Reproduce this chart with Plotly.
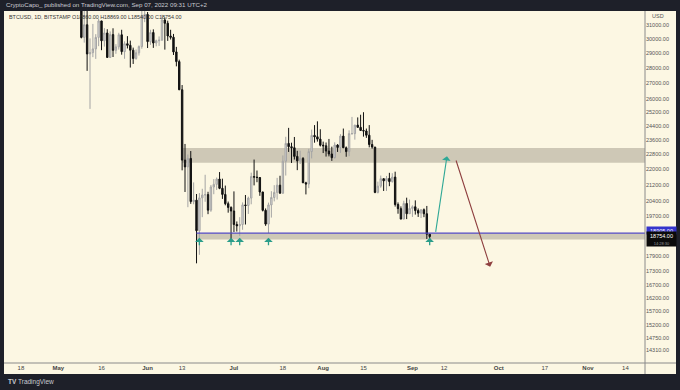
import math
import pandas as pd
import plotly.graph_objects as go

# ---------------- data (BTCUSD daily) ----------------
start_date = "2022-05-01"
opens = [37640,38470,38520,37720,39690,36550,36010,35470,34040,30100,31020,28940,29030,29290,30100,31300,29860,30420,28700,30300,29190,29430,30290,29100,29650,29540,29200,28630,29020,29450,31720,
         31790,29800,30450,29700,29860,29900,31370,31130,30200,30110,29080,28420,26580,22490,22130,22580,20380,20450,19020,20560,20700,20720,19970,21100,21230,21500,21030,20730,20280,20100,
         19930,19300,19240,19300,20220,20190,20550,21630,21600,21580,20850,19960,19320,20220,20580,20830,21190,20790,22430,23400,23220,23160,22690,22450,22580,21310,21250,22950,23850,23770,23640,
         23300,23270,22980,22820,22620,23310,23170,23810,23160,22950,23950,23950,24440,24310,24130,24100,23860,23340,23200,20830,21140,21520,21410,21530,21370,21600,20240,20040,19550,20290,19800,
         20050,20130,19950,19830,19990,19800,18860]
highs = [38660,39140,38630,39960,39840,36660,36130,35500,34250,32660,32170,30030,31080,30330,31450,31310,30770,30690,30530,30760,29620,30430,30650,29820,30190,29870,29380,29250,29530,32210,32380,
         31970,30650,30680,29940,30170,31760,31550,31320,30650,30350,29430,28550,26880,23370,22790,22980,21330,20750,20800,21010,21720,20860,21200,21500,21580,21860,21520,21170,20380,20150,
         20880,19440,19640,20340,20700,20620,21830,22520,21940,21600,20860,20050,20330,20890,21190,21560,21670,22740,23770,24280,23440,23760,22990,23000,22650,21360,23100,24180,24440,24660,24200,
         23500,23450,23650,23220,23460,23360,23920,24240,23230,24140,24920,24450,24890,25050,25200,24240,24440,23600,23200,21370,21680,21520,21660,21820,21800,21880,20340,20150,20420,20570,20480,
         20200,20440,20050,20000,20050,20170,18869]
lows = [37390,38060,37520,37680,35570,35270,34780,33720,30030,29730,27800,25400,28720,28600,29480,29200,29450,28690,28670,28730,28950,29240,28890,28610,29320,28020,28260,28550,28830,29300,31210,
        29350,29570,29360,29470,29500,29880,29240,29850,29950,28870,28100,26560,21950,20850,20110,20270,20250,17600,17960,19640,20370,19780,19890,20740,20950,20990,20510,20200,19850,18630,
        18960,18980,18780,19060,19300,19790,20250,21180,21340,20660,19910,19240,18910,19620,20390,20480,20770,20760,21680,22930,22340,22520,21960,22280,21300,20730,21040,22580,23440,23500,23230,
        22870,22680,22690,22450,22580,22930,22880,23650,22670,22700,23900,23610,24300,24160,23780,23710,23180,23110,20790,20780,21060,20900,20900,21140,21320,20140,19800,19540,19550,19550,19800,
        19650,19760,19650,19600,19640,18650,18540]
closes = [38470,38520,37720,39690,36550,36010,35470,34040,30100,31020,28940,29030,29290,30100,31300,29860,30420,28700,30300,29190,29430,30290,29100,29650,29540,29200,28630,29020,29450,31720,31790,
          29800,30450,29700,29860,29900,31370,31130,30200,30110,29080,28420,26580,22490,22130,22580,20380,20450,19020,20560,20700,20720,19970,21100,21230,21500,21030,20730,20280,20100,19930,
          19300,19240,19300,20220,20190,20550,21630,21600,21580,20850,19960,19320,20220,20580,20830,21190,20790,22430,23400,23220,23160,22690,22450,22580,21310,21250,22950,23850,23770,23640,23300,
          23270,22980,22820,22620,23310,23170,23810,23160,22950,23950,23950,24440,24310,24130,24100,23860,23340,23200,20830,21140,21520,21410,21530,21370,21600,20240,20040,19550,20290,19800,20050,
          20130,19950,19830,19990,19800,18860,18754]

# drawn zones / levels / arrows
resistance_zone = [22350, 23150]      # upper grey box
resistance_start = "2022-06-13"
support_zone = [18630, 18905]         # lower grey box
support_start = "2022-06-18"
support_line = 18905                  # purple horizontal line
bounce_dates = ["2022-06-19", "2022-06-30", "2022-07-03", "2022-07-13", "2022-09-07"]
bounce_price = 18700
up_path = [("2022-09-09", 18900), ("2022-09-13", 22700)]
down_path = [("2022-09-16", 22550), ("2022-09-28", 17460)]

ytick_vals = [31000,30000,29000,28000,27000,26000,25200,24400,23600,22800,22000,21200,20400,19700,
              17900,17300,16700,16200,15700,15200,14750,14310]
xtick_vals = ["2022-04-18","2022-05-01","2022-05-16","2022-06-01","2022-06-13","2022-07-01","2022-07-18",
              "2022-08-01","2022-08-15","2022-09-01","2022-09-12","2022-10-01","2022-10-17","2022-11-01","2022-11-14"]
xtick_text = ["18","<b>May</b>","16","<b>Jun</b>","13","<b>Jul</b>","18","<b>Aug</b>","15","<b>Sep</b>","12",
              "<b>Oct</b>","17","<b>Nov</b>","14"]

dates = pd.date_range(start_date, periods=len(closes), freq="D")

# ---------------- figure ----------------
DARK = "#1e2029"
CREAM = "#fcf7e3"
FONT = "Liberation Sans"
x_range = ["2022-04-12 03:00", "2022-11-20 19:00"]
y_range = [math.log10(13890), math.log10(32048)]

fig = go.Figure()
fig.add_trace(go.Candlestick(
    x=dates, open=opens, high=highs, low=lows, close=closes,
    increasing=dict(fillcolor="#dcdcdc", line=dict(color="#a4a4a4", width=1)),
    decreasing=dict(fillcolor="#111111", line=dict(color="#111111", width=1)),
    whiskerwidth=0, showlegend=False, hoverinfo="skip",
))

shapes = []
# cream panel
shapes.append(dict(type="rect", xref="paper", yref="paper", x0=0, x1=(676-4)/641,
                   y0=(363-374)/352, y1=1, fillcolor=CREAM, line=dict(width=0), layer="below"))
# zones
shapes.append(dict(type="rect", xref="x", yref="y", x0=resistance_start, x1=x_range[1],
                   y0=resistance_zone[0], y1=resistance_zone[1], fillcolor="#cec8b6",
                   line=dict(width=0), layer="below"))
shapes.append(dict(type="rect", xref="x", yref="y", x0=support_start, x1=x_range[1],
                   y0=support_zone[0], y1=support_zone[1], fillcolor="#cec8b6",
                   line=dict(width=0), layer="below"))
shapes.append(dict(type="line", xref="x", yref="y", x0=support_start, x1=x_range[1],
                   y0=support_line, y1=support_line, line=dict(color="#5149c4", width=1.3)))
# axis frame lines
shapes.append(dict(type="line", xref="paper", yref="paper", x0=1, x1=1, y0=(363-374)/352, y1=1,
                   line=dict(color="#8a8a8a", width=1)))
shapes.append(dict(type="line", xref="paper", yref="paper", x0=0, x1=(676-4)/641, y0=0, y1=0,
                   line=dict(color="#8a8a8a", width=1)))

ann = []
# header texts
ann.append(dict(xref="paper", yref="paper", x=(4-4)/641, y=(363-5)/352, xanchor="left", yanchor="middle",
                text="CryptoCapo_ published on TradingView.com, Sep 07, 2022 09:31 UTC+2",
                showarrow=False, font=dict(family=FONT, size=6.2, color="#c9cbd1")))
ann.append(dict(xref="paper", yref="paper", x=(7-4)/641, y=(363-17)/352, xanchor="left", yanchor="middle",
                text="BTCUSD, 1D, BITSTAMP O18860.00 H18869.00 L18540.00 C18754.00",
                showarrow=False, font=dict(family=FONT, size=5.4, color="#333333")))
ann.append(dict(xref="paper", yref="paper", x=(650-4)/641, y=(363-15.5)/352, xanchor="left", yanchor="middle",
                text="USD", showarrow=False, font=dict(family=FONT, size=5.5, color="#555555")))
ann.append(dict(xref="paper", yref="paper", x=(6-4)/641, y=(363-382)/352, xanchor="left", yanchor="middle",
                text="<b>TV</b> TradingView", showarrow=False, font=dict(family=FONT, size=6.5, color="#c9cbd1")))
# price labels
ann.append(dict(xref="paper", yref="paper", x=1, xshift=1, y=(363-230.5)/352, xanchor="left", yanchor="middle",
                text="18905.00", showarrow=False, bgcolor="#3434cc", borderpad=0.5, width=28,
                font=dict(family=FONT, size=5.5, color="#ffffff")))
ann.append(dict(xref="paper", yref="paper", x=1, xshift=1, y=(363-239.3)/352, xanchor="left", yanchor="middle",
                text="18754.00<br><span style='font-size:4px;color:#9a9a9a'>14:28:30</span>",
                showarrow=False, bgcolor="#0b0b0b", borderpad=0.5, width=28,
                font=dict(family=FONT, size=5.5, color="#ffffff")))
# small bounce arrows
for d in bounce_dates:
    ann.append(dict(x=d, y=math.log10(bounce_price), xref="x", yref="y", ax=0, ay=9, text="",
                    showarrow=True, arrowhead=1, arrowsize=1.1, arrowwidth=1.3, arrowcolor="#2a9d8a"))
# projected path
ann.append(dict(x=up_path[1][0], y=math.log10(up_path[1][1]), ax=up_path[0][0], ay=math.log10(up_path[0][1]),
                xref="x", yref="y", axref="x", ayref="y", text="", showarrow=True,
                arrowhead=1, arrowsize=1.3, arrowwidth=1.1, arrowcolor="#2fa896"))
ann.append(dict(x=down_path[1][0], y=math.log10(down_path[1][1]), ax=down_path[0][0], ay=math.log10(down_path[0][1]),
                xref="x", yref="y", axref="x", ayref="y", text="", showarrow=True,
                arrowhead=1, arrowsize=1.3, arrowwidth=1.1, arrowcolor="#8e3f3f"))

fig.update_layout(
    width=680, height=390,
    margin=dict(l=4, r=35, t=11, b=27, autoexpand=False),
    paper_bgcolor=DARK, plot_bgcolor=CREAM,
    shapes=shapes, annotations=ann, showlegend=False,
    font=dict(family=FONT),
)
fig.update_xaxes(type="date", range=x_range, rangeslider=dict(visible=False), showgrid=False,
                 zeroline=False, showline=False, ticks="", tickmode="array", tickvals=xtick_vals,
                 ticktext=xtick_text, tickfont=dict(family=FONT, size=6, color="#444444"), automargin=False)
fig.update_yaxes(type="log", range=y_range, side="right", showgrid=False, zeroline=False, showline=False,
                 ticks="", tickmode="array", tickvals=ytick_vals,
                 ticktext=[f"{v:.2f}" for v in ytick_vals],
                 tickfont=dict(family=FONT, size=5.5, color="#555555"), automargin=False)

fig.write_html("out.html", config={"displayModeBar": False},
               post_script="document.body.style.margin='0';document.body.style.background='#1e2029';")
